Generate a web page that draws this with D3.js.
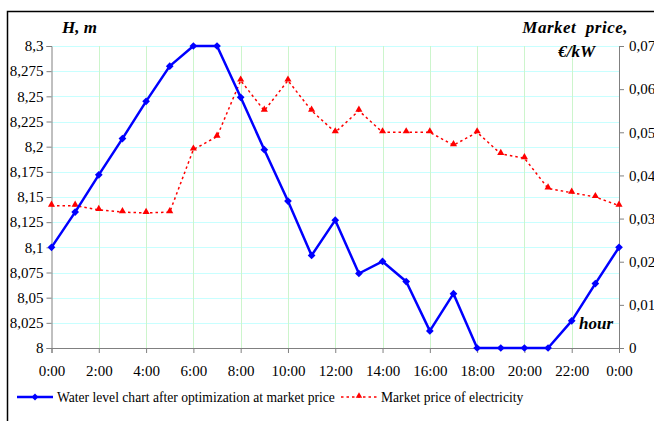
<!DOCTYPE html>
<html>
<head>
<meta charset="utf-8">
<script src="https://d3js.org/d3.v7.min.js"></script>
<style>
  body { margin: 0; background: #fff; }
  svg text { font-family: "Liberation Serif", "Times New Roman", serif; }
</style>
</head>
<body>
<div id="chart"></div>
<script>
// hours 0..24
const hours = d3.range(0, 25);
const xTickLabels = ["0:00", "2:00", "4:00", "6:00", "8:00", "10:00", "12:00",
  "14:00", "16:00", "18:00", "20:00", "22:00", "0:00"];

// water level, m
const waterLevel = [8.1, 8.135, 8.172, 8.208, 8.245, 8.28, 8.3, 8.3, 8.249,
  8.197, 8.146, 8.092, 8.127, 8.074, 8.086, 8.066, 8.017, 8.054, 8, 8, 8, 8,
  8.027, 8.064, 8.1];

// market price, €/kW
const marketPrice = [0.033, 0.033, 0.032, 0.0315, 0.0313, 0.0315, 0.046,
  0.049, 0.062, 0.055, 0.062, 0.055, 0.05, 0.055, 0.05, 0.05, 0.05, 0.047,
  0.05, 0.045, 0.044, 0.037, 0.036, 0.035, 0.033];

const leftTicks = [8, 8.025, 8.05, 8.075, 8.1, 8.125, 8.15, 8.175, 8.2, 8.225, 8.25, 8.275, 8.3];
const rightTicks = [0, 0.01, 0.02, 0.03, 0.04, 0.05, 0.06, 0.07];

const W = 654, H = 421;
const plot = { left: 51.5, right: 619, top: 46, bottom: 348 };

const svg = d3.select("#chart").append("svg")
  .attr("width", W).attr("height", H);

const x = d3.scaleLinear().domain([0, 24]).range([plot.left, plot.right]);
const yL = d3.scaleLinear().domain([8, 8.3]).range([plot.bottom, plot.top]);
const yR = d3.scaleLinear().domain([0, 0.07]).range([plot.bottom, plot.top]);

const fmt = (d) => String(+d.toFixed(3)).replace(".", ",");

// outer frame
svg.append("rect")
  .attr("x", 7.5).attr("y", 11.5)
  .attr("width", W + 10).attr("height", H + 10)
  .attr("fill", "none").attr("stroke", "#000").attr("stroke-width", 1.5);

// grid
svg.append("g").selectAll("line")
  .data(leftTicks.slice(1))
  .join("line")
  .attr("x1", plot.left).attr("x2", plot.right)
  .attr("y1", (d) => Math.round(yL(d)) + 0.5)
  .attr("y2", (d) => Math.round(yL(d)) + 0.5)
  .attr("stroke", "#c8ffff").attr("stroke-width", 1);

svg.append("g").selectAll("line")
  .data(d3.range(2, 24, 2))
  .join("line")
  .attr("x1", (d) => Math.round(x(d)) + 0.5)
  .attr("x2", (d) => Math.round(x(d)) + 0.5)
  .attr("y1", plot.top).attr("y2", plot.bottom)
  .attr("stroke", "#ccf5cc").attr("stroke-width", 1);

// axes
function styleAxis(g) {
  g.selectAll("path, line").attr("stroke", "#808080");
  g.selectAll("text").attr("fill", "#000").style("font-size", "15px");
}

svg.append("g")
  .attr("transform", `translate(${plot.left},0)`)
  .call(d3.axisLeft(yL).tickValues(leftTicks).tickFormat(fmt).tickSizeOuter(0).tickSize(5).tickPadding(3))
  .call(styleAxis);

svg.append("g")
  .attr("transform", `translate(${plot.right},0)`)
  .call(d3.axisRight(yR).tickValues(rightTicks).tickFormat(fmt).tickSizeOuter(0).tickSize(5).tickPadding(5))
  .call(styleAxis);

svg.append("g")
  .attr("transform", `translate(0,${plot.bottom})`)
  .call(d3.axisBottom(x).tickValues(d3.range(0, 25, 2))
    .tickFormat((d, i) => xTickLabels[i]).tickSizeOuter(0).tickSize(5).tickPadding(12))
  .call(styleAxis);

// price line
const priceLine = d3.line().x((d, i) => x(hours[i])).y((d) => yR(d));
svg.append("path")
  .datum(marketPrice)
  .attr("d", priceLine)
  .attr("fill", "none")
  .attr("stroke", "#ff0000")
  .attr("stroke-width", 1.5)
  .attr("stroke-dasharray", "2.5,3");

const tri = d3.symbol().type(d3.symbolTriangle).size(22);
svg.append("g").selectAll("path")
  .data(marketPrice)
  .join("path")
  .attr("d", tri)
  .attr("transform", (d, i) => `translate(${x(hours[i])},${yR(d) - 1})`)
  .attr("fill", "#ff0000");

// water level line
const levelLine = d3.line().x((d, i) => x(hours[i])).y((d) => yL(d));
svg.append("path")
  .datum(waterLevel)
  .attr("d", levelLine)
  .attr("fill", "none")
  .attr("stroke", "#0000ff")
  .attr("stroke-width", 2.5)
  .attr("stroke-linejoin", "round");

const diamond = d3.symbol().type(d3.symbolDiamond2).size(38);
svg.append("g").selectAll("path")
  .data(waterLevel)
  .join("path")
  .attr("d", diamond)
  .attr("transform", (d, i) => `translate(${x(hours[i])},${yL(d)})`)
  .attr("fill", "#0000ff");

// axis titles
const titleStyle = (t) => t.style("font-size", "17px").style("font-weight", "bold").style("font-style", "italic");
svg.append("text").attr("x", 62).attr("y", 33).text("H, m").call(titleStyle);
svg.append("text").attr("x", 628).attr("y", 32.5).attr("text-anchor", "end")
  .style("white-space", "pre").style("letter-spacing", "0.5px")
  .text("Market  price,").call(titleStyle);
svg.append("text").attr("x", 595).attr("y", 56.5).attr("text-anchor", "end").text("€/kW").call(titleStyle);
svg.append("text").attr("x", 613).attr("y", 328.5).attr("text-anchor", "end").text("hour").call(titleStyle);

// legend
const leg = svg.append("g").attr("transform", "translate(0,397)");
leg.append("line").attr("x1", 17).attr("x2", 53).attr("y1", 0).attr("y2", 0)
  .attr("stroke", "#0000ff").attr("stroke-width", 2.5);
leg.append("path").attr("d", d3.symbol().type(d3.symbolDiamond2).size(30))
  .attr("transform", "translate(35,0)").attr("fill", "#0000ff");
leg.append("text").attr("x", 57).attr("y", 5).style("font-size", "13.6px")
  .text("Water level chart after optimization at market price");

leg.append("line").attr("x1", 341).attr("x2", 377).attr("y1", 0).attr("y2", 0)
  .attr("stroke", "#ff0000").attr("stroke-width", 1.5).attr("stroke-dasharray", "2.5,3");
leg.append("path").attr("d", d3.symbol().type(d3.symbolTriangle).size(18))
  .attr("transform", "translate(359,-1)").attr("fill", "#ff0000");
leg.append("text").attr("x", 381).attr("y", 5).style("font-size", "13.6px")
  .text("Market price of electricity");
</script>
</body>
</html>
